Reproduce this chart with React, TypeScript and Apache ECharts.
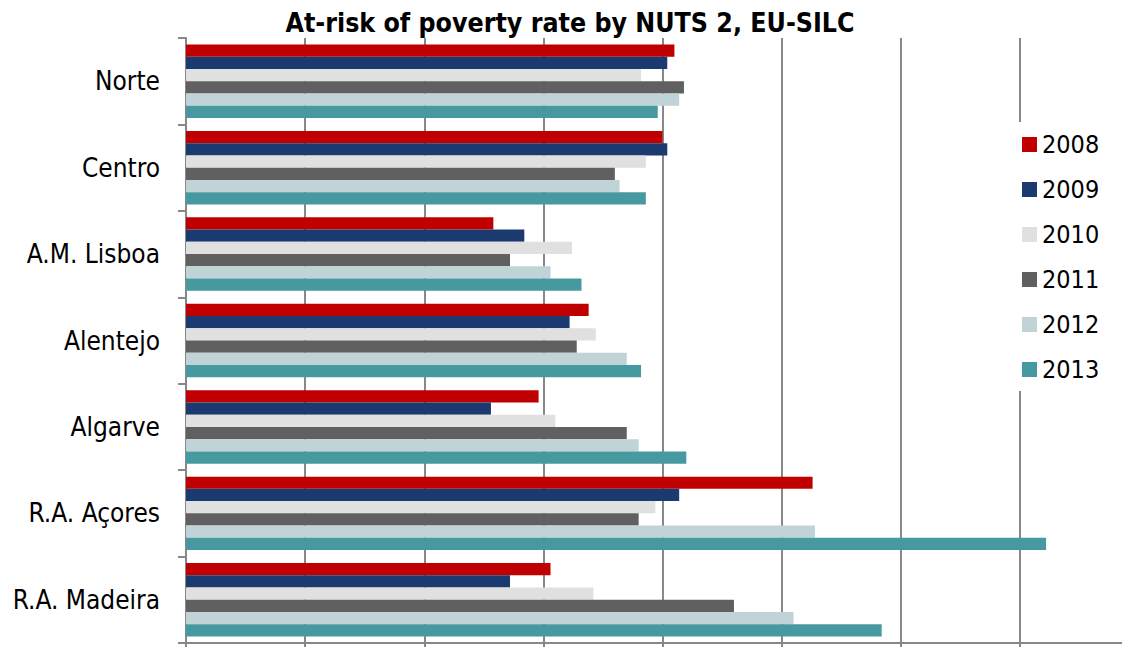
import React, { useEffect, useRef } from "react";
import * as echarts from "echarts";

const categories = ["Norte", "Centro", "A.M. Lisboa", "Alentejo", "Algarve", "R.A. Açores", "R.A. Madeira"];
const years = ["2008", "2009", "2010", "2011", "2012", "2013"];
const v2008 = [20.5, 20.0, 12.9, 16.9, 14.8, 26.3, 15.3];
const v2009 = [20.2, 20.2, 14.2, 16.1, 12.8, 20.7, 13.6];
const v2010 = [19.1, 19.3, 16.2, 17.2, 15.5, 19.7, 17.1];
const v2011 = [20.9, 18.0, 13.6, 16.4, 18.5, 19.0, 23.0];
const v2012 = [20.7, 18.2, 15.3, 18.5, 19.0, 26.4, 25.5];
const v2013 = [19.8, 19.3, 16.6, 19.1, 21.0, 36.1, 29.2];
const seriesValues = [v2008, v2009, v2010, v2011, v2012, v2013];
const colors = ["#C00000", "#1B3A6F", "#E0E0E0", "#606060", "#C0D3D6", "#46999F"];

const FONT = "'DejaVu Sans Condensed', 'DejaVu Sans', sans-serif";

export default function App() {
  const ref = useRef<HTMLDivElement>(null);
  useEffect(() => {
    if (!ref.current) return;
    const chart = echarts.init(ref.current, undefined, { renderer: "svg" });
    chart.setOption({
      animation: false,
      backgroundColor: "#ffffff",
      title: {
        text: "At-risk of poverty rate by NUTS 2, EU-SILC",
        left: 565,
        textAlign: "center",
        top: 4,
        textStyle: { fontFamily: FONT, fontSize: 26.5, fontWeight: "bold", color: "#000" },
      },
      legend: {
        orient: "vertical",
        left: 1005,
        top: 122,
        padding: [10, 40, 9, 17],
        backgroundColor: "#ffffff",
        itemWidth: 15,
        itemHeight: 15,
        itemGap: 20,
        icon: "rect",
        data: years,
        textStyle: { fontFamily: FONT, fontSize: 25, lineHeight: 25, color: "#000" },
      },
      grid: { left: 186, top: 38, width: 953, height: 605, containLabel: false },
      xAxis: {
        type: "value",
        min: 0,
        max: 40,
        interval: 5,
        axisLabel: { show: false },
        axisLine: { show: true, lineStyle: { color: "#888", width: 2 } },
        axisTick: { show: true, length: 5, lineStyle: { color: "#888", width: 2 } },
        splitLine: { show: true, lineStyle: { color: "#888", width: 2 } },
      },
      yAxis: {
        type: "category",
        data: categories,
        inverse: true,
        axisLine: { show: true, lineStyle: { color: "#888", width: 2 } },
        axisTick: { show: true, length: 8, lineStyle: { color: "#888", width: 2 } },
        axisLabel: { margin: 26, fontFamily: FONT, fontSize: 26, color: "#000" },
      },
      series: years.map((y, i) => ({
        name: y,
        type: "bar",
        data: seriesValues[i],
        barGap: "0%",
        barCategoryGap: "15%",
        itemStyle: { color: colors[i] },
      })),
    });
    return () => chart.dispose();
  }, []);
  return (
    <div style={{ position: "fixed", left: 0, top: 0, width: 1122, height: 647, overflow: "hidden", background: "#fff" }}>
      <div ref={ref} style={{ width: 1160, height: 660 }} />
    </div>
  );
}
